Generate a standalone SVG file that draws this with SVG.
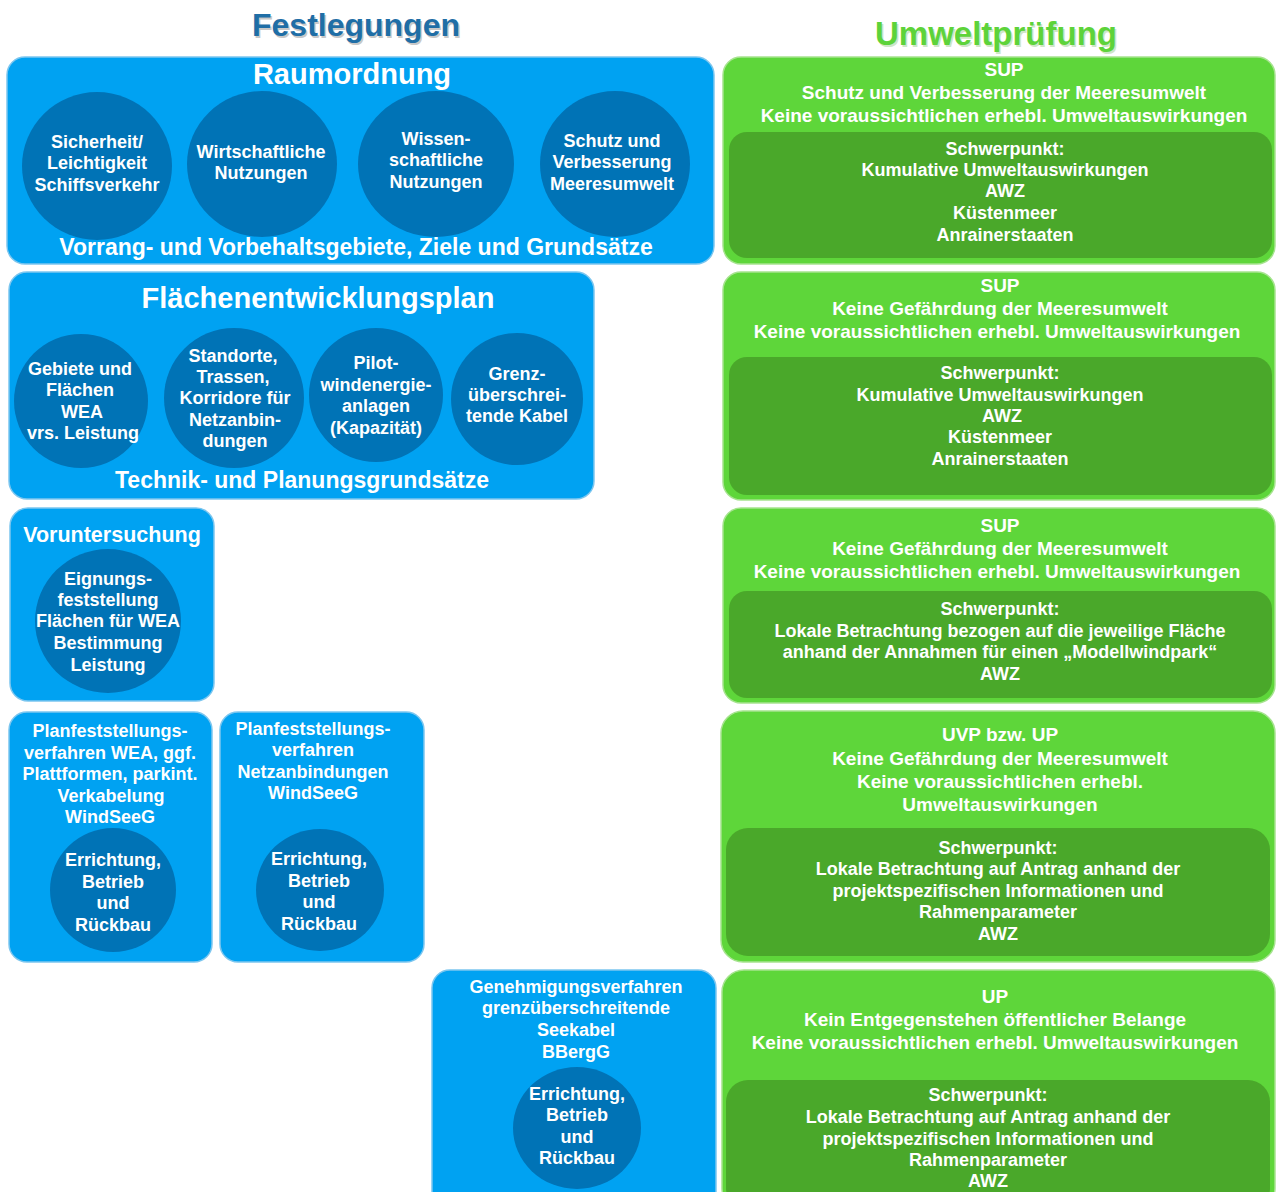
<svg xmlns="http://www.w3.org/2000/svg" width="1276" height="1192" viewBox="0 0 1276 1192">
<style>
text{font-family:"Liberation Sans",Arial,sans-serif;font-weight:bold;fill:#fff;text-anchor:middle}
.bbox{fill:#00a2f2;stroke:#7cc6ef;stroke-width:1.5}
.gbox{fill:#5ed63a;stroke:#a6e38f;stroke-width:1.5}
.ginner{fill:#4aa82a}
.circ{fill:#0073b6}
.h1{font-size:32px}
.h2{font-size:29px}
.h3{font-size:23px}
.t{font-size:18px}
.g{font-size:19px}
</style>
<g id="titles">
<text class="h1" x="357.5" y="37.5" style="fill:#c8c8c8">Festlegungen</text>
<text class="h1" x="356" y="36" style="fill:#1f6ea6">Festlegungen</text>
<text class="h1" x="997.5" y="46.5" style="fill:#cfe6c6;font-size:33px">Umweltprüfung</text>
<text class="h1" x="996" y="45" style="fill:#5dd33a;font-size:33px">Umweltprüfung</text>
</g>
<g id="raumordnung">
<rect class="bbox" x="7" y="57" width="707" height="207" rx="18"/>
<text class="h2" x="352" y="84">Raumordnung</text>
<ellipse class="circ" cx="97" cy="166" rx="75" ry="74"/>
<ellipse class="circ" cx="262" cy="164" rx="75" ry="73"/>
<ellipse class="circ" cx="436" cy="164" rx="78" ry="73"/>
<ellipse class="circ" cx="615" cy="164" rx="75" ry="73"/>
<text class="t" x="97" y="148">Sicherheit/</text>
<text class="t" x="97" y="169">Leichtigkeit</text>
<text class="t" x="97" y="191">Schiffsverkehr</text>
<text class="t" x="261" y="158">Wirtschaftliche</text>
<text class="t" x="261" y="179">Nutzungen</text>
<text class="t" x="436" y="145">Wissen-</text>
<text class="t" x="436" y="166">schaftliche</text>
<text class="t" x="436" y="188">Nutzungen</text>
<text class="t" x="612" y="147">Schutz und</text>
<text class="t" x="612" y="168">Verbesserung</text>
<text class="t" x="612" y="190">Meeresumwelt</text>
<text class="h3" x="356" y="255">Vorrang- und Vorbehaltsgebiete, Ziele und Grundsätze</text>
</g>
<g id="fep">
<rect class="bbox" x="9" y="272" width="585" height="227" rx="18"/>
<text class="h2" x="318" y="308">Flächenentwicklungsplan</text>
<circle class="circ" cx="81" cy="401" r="67"/>
<circle class="circ" cx="234" cy="398" r="70"/>
<circle class="circ" cx="376" cy="395" r="67"/>
<circle class="circ" cx="517" cy="399" r="66"/>
<text class="t" x="80" y="375">Gebiete und</text>
<text class="t" x="80" y="396">Flächen</text>
<text class="t" x="82" y="418">WEA</text>
<text class="t" x="83" y="439">vrs. Leistung</text>
<text class="t" x="233" y="362">Standorte,</text>
<text class="t" x="233" y="383">Trassen,</text>
<text class="t" x="235" y="404">Korridore für</text>
<text class="t" x="235" y="426">Netzanbin-</text>
<text class="t" x="235" y="447">dungen</text>
<text class="t" x="376" y="369">Pilot-</text>
<text class="t" x="376" y="391">windenergie-</text>
<text class="t" x="376" y="412">anlagen</text>
<text class="t" x="376" y="434">(Kapazität)</text>
<text class="t" x="517" y="380">Grenz-</text>
<text class="t" x="517" y="401">überschrei-</text>
<text class="t" x="517" y="422">tende Kabel</text>
<text class="h3" x="302" y="488">Technik- und Planungsgrundsätze</text>
</g>
<g id="voruntersuchung">
<rect class="bbox" x="10" y="508" width="204" height="193" rx="18"/>
<text x="112" y="542" style="font-size:21.5px">Voruntersuchung</text>
<ellipse class="circ" cx="108" cy="621" rx="73" ry="72"/>
<text class="t" x="108" y="585">Eignungs-</text>
<text class="t" x="108" y="606">feststellung</text>
<text class="t" x="108" y="627">Flächen für WEA</text>
<text class="t" x="108" y="649">Bestimmung</text>
<text class="t" x="108" y="671">Leistung</text>
</g>
<g id="pfv-wea">
<rect class="bbox" x="9" y="712" width="203" height="250" rx="18"/>
<text class="t" x="110" y="737">Planfeststellungs-</text>
<text class="t" x="110" y="759">verfahren WEA, ggf.</text>
<text class="t" x="110" y="780">Plattformen, parkint.</text>
<text class="t" x="111" y="802">Verkabelung</text>
<text class="t" x="110" y="823">WindSeeG</text>
<ellipse class="circ" cx="113" cy="890" rx="63" ry="62"/>
<text class="t" x="113" y="866">Errichtung,</text>
<text class="t" x="113" y="888">Betrieb</text>
<text class="t" x="113" y="909">und</text>
<text class="t" x="113" y="931">Rückbau</text>
</g>
<g id="pfv-netz">
<rect class="bbox" x="220" y="712" width="204" height="250" rx="18"/>
<text class="t" x="313" y="735">Planfeststellungs-</text>
<text class="t" x="313" y="756">verfahren</text>
<text class="t" x="313" y="778">Netzanbindungen</text>
<text class="t" x="313" y="799">WindSeeG</text>
<ellipse class="circ" cx="320" cy="890" rx="64" ry="61"/>
<text class="t" x="319" y="865">Errichtung,</text>
<text class="t" x="319" y="887">Betrieb</text>
<text class="t" x="319" y="908">und</text>
<text class="t" x="319" y="930">Rückbau</text>
</g>
<g id="genehmigung">
<rect class="bbox" x="432" y="970" width="284" height="240" rx="18"/>
<text class="t" x="576" y="993">Genehmigungsverfahren</text>
<text class="t" x="576" y="1014">grenzüberschreitende</text>
<text class="t" x="576" y="1036">Seekabel</text>
<text class="t" x="576" y="1058">BBergG</text>
<ellipse class="circ" cx="577" cy="1128" rx="64" ry="61"/>
<text class="t" x="577" y="1100">Errichtung,</text>
<text class="t" x="577" y="1121">Betrieb</text>
<text class="t" x="577" y="1143">und</text>
<text class="t" x="577" y="1164">Rückbau</text>
</g>
<g id="sup-raumordnung">
<rect class="gbox" x="723" y="57" width="552" height="207" rx="18"/>
<text class="g" x="1004" y="76">SUP</text>
<text class="g" x="1004" y="99">Schutz und Verbesserung der Meeresumwelt</text>
<text class="g" x="1004" y="122">Keine voraussichtlichen erhebl. Umweltauswirkungen</text>
<rect class="ginner" x="729" y="132" width="543" height="126" rx="18"/>
<text class="t" x="1005" y="155">Schwerpunkt:</text>
<text class="t" x="1005" y="176">Kumulative Umweltauswirkungen</text>
<text class="t" x="1005" y="197">AWZ</text>
<text class="t" x="1005" y="219">Küstenmeer</text>
<text class="t" x="1005" y="241">Anrainerstaaten</text>
</g>
<g id="sup-fep">
<rect class="gbox" x="723" y="272" width="552" height="228" rx="18"/>
<text class="g" x="1000" y="292">SUP</text>
<text class="g" x="1000" y="315">Keine Gefährdung der Meeresumwelt</text>
<text class="g" x="997" y="338">Keine voraussichtlichen erhebl. Umweltauswirkungen</text>
<rect class="ginner" x="729" y="357" width="543" height="138" rx="18"/>
<text class="t" x="1000" y="379">Schwerpunkt:</text>
<text class="t" x="1000" y="401">Kumulative Umweltauswirkungen</text>
<text class="t" x="1002" y="422">AWZ</text>
<text class="t" x="1000" y="443">Küstenmeer</text>
<text class="t" x="1000" y="465">Anrainerstaaten</text>
</g>
<g id="sup-vu">
<rect class="gbox" x="723" y="508" width="552" height="195" rx="18"/>
<text class="g" x="1000" y="532">SUP</text>
<text class="g" x="1000" y="555">Keine Gefährdung der Meeresumwelt</text>
<text class="g" x="997" y="578">Keine voraussichtlichen erhebl. Umweltauswirkungen</text>
<rect class="ginner" x="729" y="591" width="543" height="107" rx="18"/>
<text class="t" x="1000" y="615">Schwerpunkt:</text>
<text class="t" x="1000" y="637">Lokale Betrachtung bezogen auf die jeweilige Fläche</text>
<text class="t" x="1000" y="658">anhand der Annahmen für einen „Modellwindpark“</text>
<text class="t" x="1000" y="680">AWZ</text>
</g>
<g id="uvp">
<rect class="gbox" x="721" y="711" width="554" height="251" rx="22"/>
<text class="g" x="1000" y="741">UVP bzw. UP</text>
<text class="g" x="1000" y="765">Keine Gefährdung der Meeresumwelt</text>
<text class="g" x="1000" y="788">Keine voraussichtlichen erhebl.</text>
<text class="g" x="1000" y="811">Umweltauswirkungen</text>
<rect class="ginner" x="726" y="828" width="544" height="128" rx="22"/>
<text class="t" x="998" y="854">Schwerpunkt:</text>
<text class="t" x="998" y="875">Lokale Betrachtung auf Antrag anhand der</text>
<text class="t" x="998" y="897">projektspezifischen Informationen und</text>
<text class="t" x="998" y="918">Rahmenparameter</text>
<text class="t" x="998" y="940">AWZ</text>
</g>
<g id="up">
<rect class="gbox" x="722" y="970" width="553" height="240" rx="22"/>
<text class="g" x="995" y="1003">UP</text>
<text class="g" x="995" y="1026">Kein Entgegenstehen öffentlicher Belange</text>
<text class="g" x="995" y="1049">Keine voraussichtlichen erhebl. Umweltauswirkungen</text>
<rect class="ginner" x="726" y="1080" width="544" height="130" rx="22"/>
<text class="t" x="988" y="1101">Schwerpunkt:</text>
<text class="t" x="988" y="1123">Lokale Betrachtung auf Antrag anhand der</text>
<text class="t" x="988" y="1145">projektspezifischen Informationen und</text>
<text class="t" x="988" y="1166">Rahmenparameter</text>
<text class="t" x="988" y="1187">AWZ</text>
</g>
<g id="connectors"></g>
</svg>
